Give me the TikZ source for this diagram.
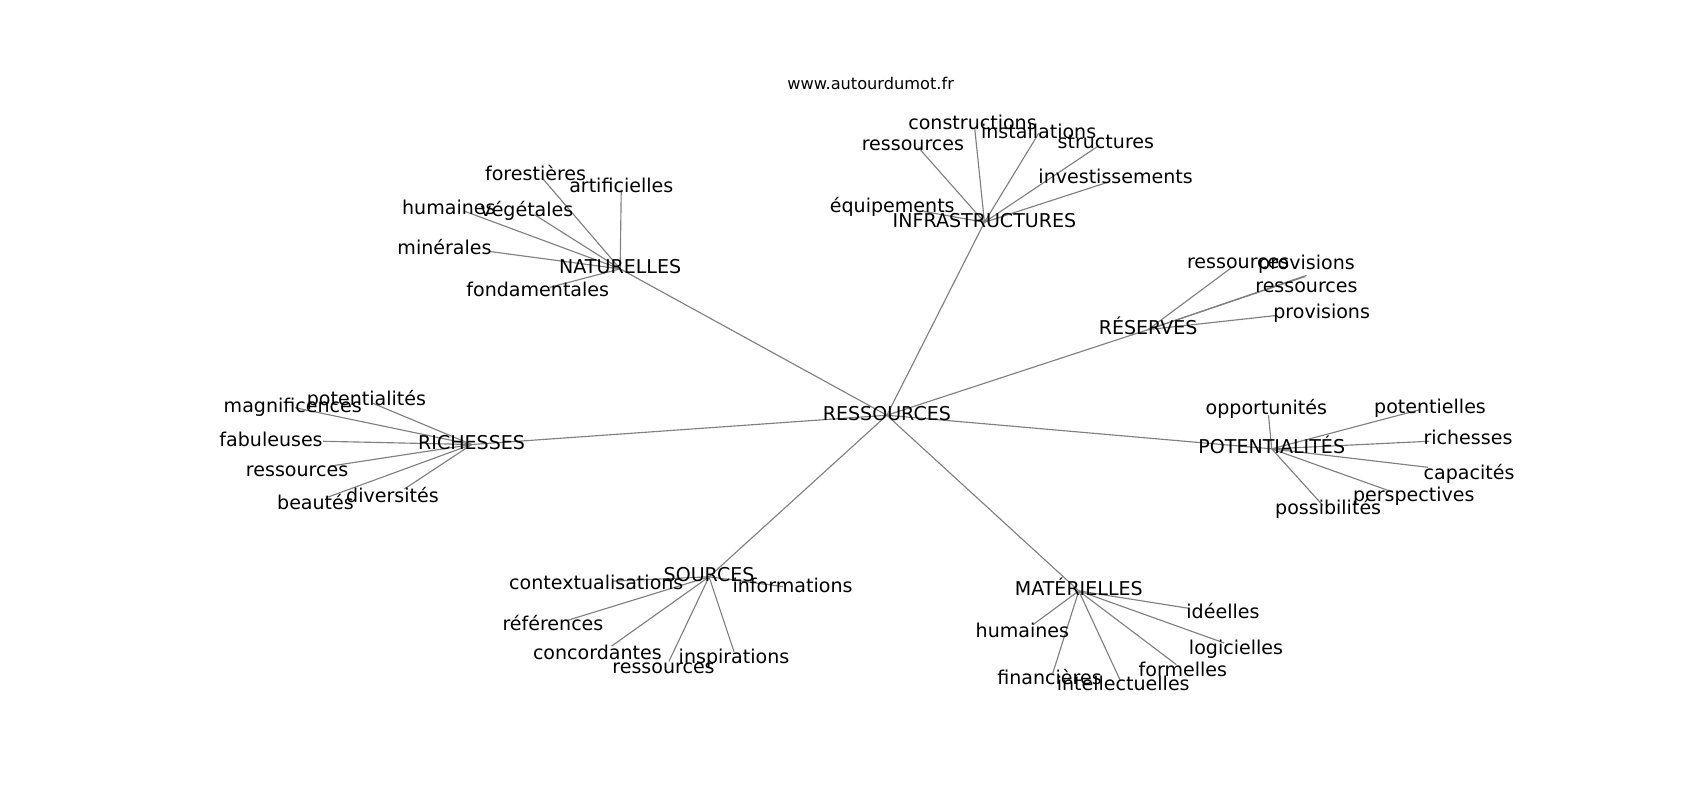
\documentclass[tikz,border=0pt]{standalone}
\usepackage{fontspec}
\setmainfont{DejaVu Sans}
\usepackage{tikz}
\usetikzlibrary{positioning,backgrounds}
\definecolor{linkgray}{RGB}{128,128,128}

\tikzset{
  word/.style={inner sep=0pt, text height=0.76em, text depth=0.24em, font=\fontsize{10}{12}\selectfont},
  link/.style={draw=linkgray, line width=0.6pt},
}

\begin{document}
\begin{tikzpicture}[x=0.02cm, y=-0.02cm]
        \useasboundingbox (0,0) rectangle (1568,738);
        \node[word, font=\fontsize{8.5}{10}\selectfont] (site) at (803,78) {www.autourdumot.fr};

        % centre
        \node[word] (res) at (818,383) {RESSOURCES};

        % branches
        \node[word] (nat) at (572,248) {NATURELLES};
        \node[word] (infra) at (908,205) {INFRASTRUCTURES};
        \node[word] (resv) at (1059,304) {RÉSERVES};
        \node[word] (rich) at (435,410) {RICHESSES};
        \node[word] (pot) at (1173,414) {POTENTIALITÉS};
        \node[word] (src) at (654,532) {SOURCES};
        \node[word] (mat) at (995,545) {MATÉRIELLES};

        % naturelles
        \node[word] (natfor) at (494,162) {forestières};
        \node[word] (natart) at (573,173) {artificielles};
        \node[word] (nathum) at (414,193) {humaines};
        \node[word] (natveg) at (486,195) {végétales};
        \node[word] (natmin) at (410,230) {minérales};
        \node[word] (natfon) at (496,269) {fondamentales};

        % infrastructures
        \node[word] (infcon) at (897,115) {constructions};
        \node[word] (infins) at (958,123) {installations};
        \node[word] (infres) at (842,134) {ressources};
        \node[word] (infstr) at (1020,132) {structures};
        \node[word] (infinv) at (1029,165) {investissements};
        \node[word] (infequ) at (823,191) {équipements};

        % reserves
        \node[word] (resres) at (1142,243) {ressources};
        \node[word] (respro) at (1205,244) {provisions};
        \node[word] (resresb) at (1205,265) {ressources};
        \node[word] (resprob) at (1219,289) {provisions};

        % richesses
        \node[word] (ricpot) at (338,369) {potentialités};
        \node[word] (ricmag) at (270,376) {magnificences};
        \node[word] (ricfab) at (250,407) {fabuleuses};
        \node[word] (ricres) at (274,435) {ressources};
        \node[word] (ricbea) at (291,465) {beautés};
        \node[word] (ricdiv) at (362,459) {diversités};

        % potentialites
        \node[word] (potopp) at (1168,378) {opportunités};
        \node[word] (potpot) at (1319,377) {potentielles};
        \node[word] (potric) at (1354,405) {richesses};
        \node[word] (potcap) at (1355,438) {capacités};
        \node[word] (potper) at (1304,458) {perspectives};
        \node[word] (potpos) at (1225,470) {possibilités};

        % sources
        \node[word] (srccon) at (550,539) {contextualisations};
        \node[word] (srcinf) at (731,542) {informations};
        \node[word] (srcref) at (510,577) {références};
        \node[word] (srccor) at (551,604) {concordantes};
        \node[word] (srcres) at (612,617) {ressources};
        \node[word] (srcins) at (677,607) {inspirations};

        % materielles
        \node[word] (matide) at (1128,566) {idéelles};
        \node[word] (mathum) at (943,583) {humaines};
        \node[word] (matlog) at (1140,599) {logicielles};
        \node[word] (matfor) at (1091,619) {formelles};
        \node[word] (matfin) at (968,627) {financières};
        \node[word] (matint) at (1036,632) {intellectuelles};

        \begin{scope}[on background layer]
        \draw[link] (res.center) -- (nat.center);
        \draw[link] (res.center) -- (infra.center);
        \draw[link] (res.center) -- (resv.center);
        \draw[link] (res.center) -- (rich.center);
        \draw[link] (res.center) -- (pot.center);
        \draw[link] (res.center) -- (src.center);
        \draw[link] (res.center) -- (mat.center);

        \draw[link] (nat.center) -- ([shift={(6,2)}]natfor.center);
        \draw[link] (nat.center) -- ([shift={(0,2)}]natart.center);
        \draw[link] (nat.center) -- ([shift={(15,2)}]nathum.center);
        \draw[link] (nat.center) -- ([shift={(7,3)}]natveg.center);
        \draw[link] (nat.center) -- ([shift={(42,2)}]natmin.center);
        \draw[link] (nat.center) -- ([shift={(11,-4)}]natfon.center);

        \draw[link] (infra.center) -- ([shift={(2,3)}]infcon.center);
        \draw[link] (infra.center) -- (infins.center);
        \draw[link] (infra.center) -- ([shift={(5,2)}]infres.center);
        \draw[link] (infra.center) -- ([shift={(-6,2)}]infstr.center);
        \draw[link] (infra.center) -- ([shift={(-7,3)}]infinv.center);
        \draw[link] (infra.center) -- ([shift={(29,4)}]infequ.center);

        \draw[link] (resv.center) -- ([shift={(-5,3)}]resres.center);
        \draw[link] (resv.center) -- ([shift={(0,10)}]respro.center);
        \draw[link] (resv.center) -- ([shift={(-1,-10)}]resresb.center);
        \draw[link] (resv.center) -- ([shift={(-42,2)}]resprob.center);

        \draw[link] (rich.center) -- ([shift={(6,3)}]ricpot.center);
        \draw[link] (rich.center) -- ([shift={(2,0)}]ricmag.center);
        \draw[link] (rich.center) -- ([shift={(48,0)}]ricfab.center);
        \draw[link] (rich.center) -- ([shift={(30,-5)}]ricres.center);
        \draw[link] (rich.center) -- ([shift={(10,-6)}]ricbea.center);
        \draw[link] (rich.center) -- ([shift={(11,-8)}]ricdiv.center);

        \draw[link] (pot.center) -- ([shift={(2,5)}]potopp.center);
        \draw[link] (pot.center) -- ([shift={(-10,1)}]potpot.center);
        \draw[link] (pot.center) -- ([shift={(-36,2)}]potric.center);
        \draw[link] (pot.center) -- ([shift={(-38,-7)}]potcap.center);
        \draw[link] (pot.center) -- ([shift={(-19,-4)}]potper.center);
        \draw[link] (pot.center) -- ([shift={(-5,-4)}]potpos.center);

        \draw[link] (src.center) -- ([shift={(15,-3)}]srccon.center);
        \draw[link] (src.center) -- ([shift={(-9,-1)}]srcinf.center);
        \draw[link] (src.center) -- ([shift={(14,-5)}]srcref.center);
        \draw[link] (src.center) -- ([shift={(13,-8)}]srccor.center);
        \draw[link] (src.center) -- ([shift={(5,-7)}]srcres.center);
        \draw[link] (src.center) -- ([shift={(0,-6)}]srcins.center);

        \draw[link] (mat.center) -- ([shift={(-32,-5)}]matide.center);
        \draw[link] (mat.center) -- ([shift={(10,-7)}]mathum.center);
        \draw[link] (mat.center) -- ([shift={(-11,-6)}]matlog.center);
        \draw[link] (mat.center) -- ([shift={(-6,-6)}]matfor.center);
        \draw[link] (mat.center) -- ([shift={(3,-6)}]matfin.center);
        \draw[link] (mat.center) -- ([shift={(-3,-5)}]matint.center);
        \end{scope}
    \end{tikzpicture}
\end{document}
